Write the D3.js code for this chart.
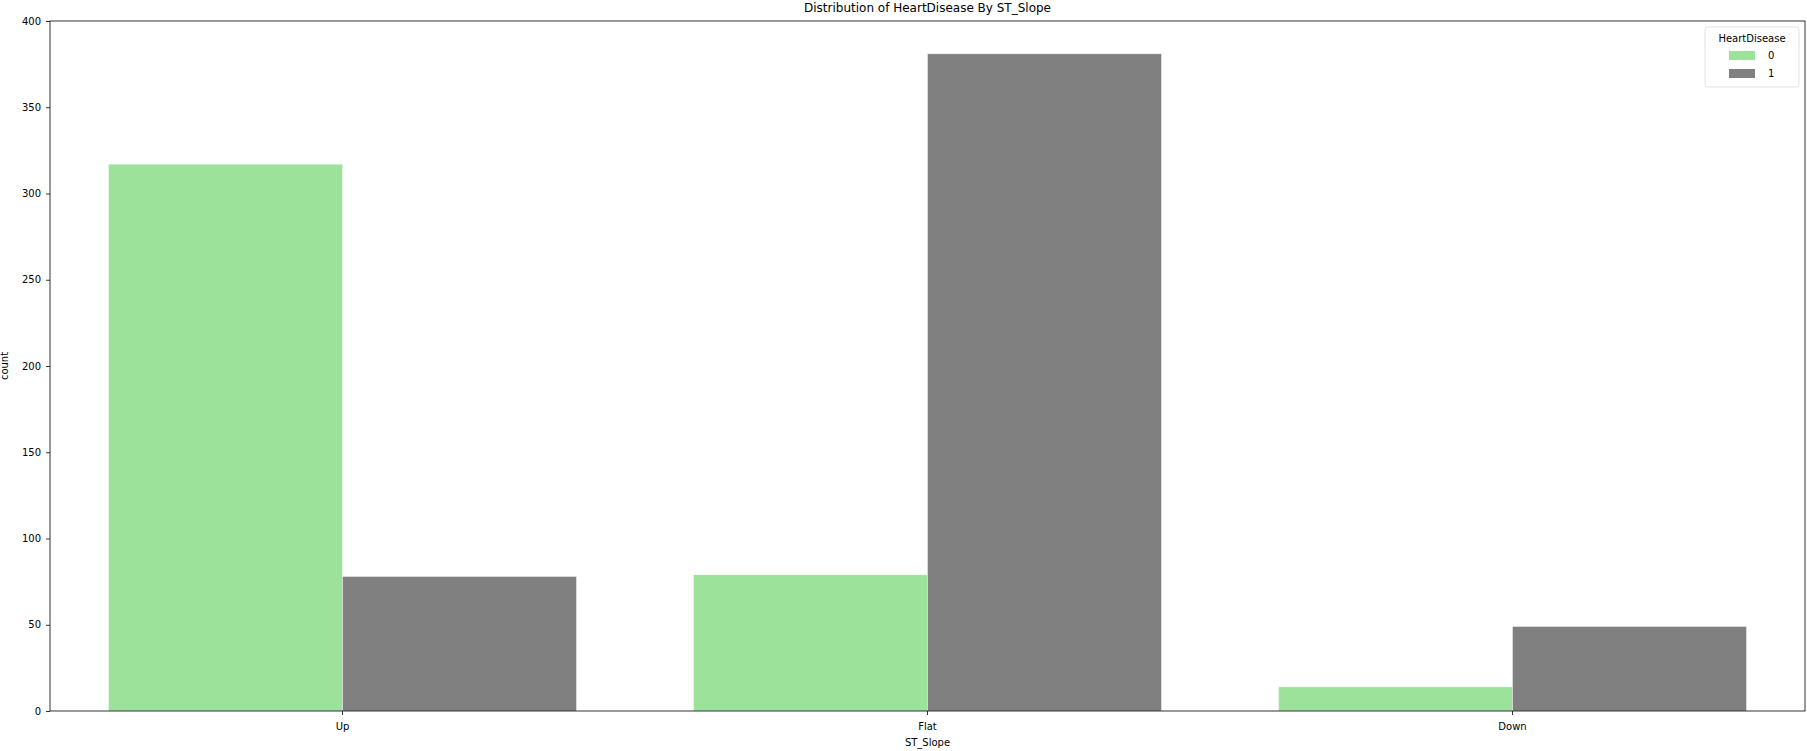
<!DOCTYPE html>
<html>
<head>
<meta charset="utf-8">
<script src="https://cdn.jsdelivr.net/npm/d3@7"></script>
<style>
  body { margin: 0; background: #fff; }
  text { font-family: "DejaVu Sans", sans-serif; fill: #000; }
</style>
</head>
<body>
<script>
var categories = ["Up", "Flat", "Down"];
var hues = ["0", "1"];
var counts0 = [317, 79, 14];
var counts1 = [78, 381, 49];
var yTicks = [0, 50, 100, 150, 200, 250, 300, 350, 400];
var colors = ["#9de29a", "#808080"];

var w = 1807, h = 751;
var margin = {top: 21, right: 2, bottom: 40, left: 50};
var width = w - margin.left - margin.right;
var height = h - margin.top - margin.bottom;

var rows = categories.map(function(c, i){
  return {cat: c, vals: [counts0[i], counts1[i]]};
});

var x = d3.scaleBand()
  .domain(categories)
  .range([0, width])
  .paddingInner(0.2)
  .paddingOuter(0.1);
var x1 = d3.scaleBand().domain(hues).range([0, x.bandwidth()]);
var y = d3.scaleLinear().domain([0, 400]).range([height, 0]);

var svg = d3.select('body').append('svg')
  .attr('width', w)
  .attr('height', h);

var chart = svg.append('g')
  .attr('transform', 'translate(' + margin.left + ',' + margin.top + ')');

// bars, one group per category
var groups = chart.selectAll('.grp')
  .data(rows)
  .enter().append('g')
  .attr('transform', function(d){ return 'translate(' + x(d.cat) + ',0)'; });

groups.selectAll('rect')
  .data(function(d){ return d.vals.map(function(v, j){ return {h: hues[j], v: v}; }); })
  .enter().append('rect')
  .attr('x', function(d){ return x1(d.h); })
  .attr('y', function(d){ return y(d.v); })
  .attr('width', x1.bandwidth())
  .attr('height', function(d){ return height - y(d.v); })
  .attr('fill', function(d, j){ return colors[j]; })
  .attr('stroke', '#fff')
  .attr('stroke-opacity', 0.5)
  .attr('stroke-width', 0.8);

// axes
var yAxis = chart.append('g')
  .call(d3.axisLeft(y).tickValues(yTicks).tickSize(4).tickPadding(5));
var xAxis = chart.append('g')
  .attr('transform', 'translate(0,' + height + ')')
  .call(d3.axisBottom(x).tickSize(4).tickPadding(8));
[yAxis, xAxis].forEach(function(a){
  a.select('.domain').remove();
  a.selectAll('text').style('font-size', '10px').style('font-family', '"DejaVu Sans", sans-serif');
  a.selectAll('line').attr('stroke', '#000').attr('stroke-width', 0.8);
});

// frame
chart.append('rect')
  .attr('width', width).attr('height', height)
  .attr('fill', 'none').attr('stroke', '#000').attr('stroke-width', 0.8);

// titles
svg.append('text')
  .attr('x', margin.left + width / 2).attr('y', 12)
  .attr('text-anchor', 'middle').style('font-size', '12px')
  .text('Distribution of HeartDisease By ST_Slope');
svg.append('text')
  .attr('x', margin.left + width / 2).attr('y', h - 5)
  .attr('text-anchor', 'middle').style('font-size', '10px')
  .text('ST_Slope');
svg.append('text')
  .attr('transform', 'translate(8,' + (margin.top + height / 2) + ') rotate(-90)')
  .attr('text-anchor', 'middle').style('font-size', '10px')
  .text('count');

// legend
var lg = svg.append('g').attr('transform', 'translate(1705,27)');
lg.append('rect')
  .attr('width', 94).attr('height', 60).attr('rx', 3)
  .attr('fill', '#fff').attr('fill-opacity', 0.8)
  .attr('stroke', '#d9d9d9').attr('stroke-width', 0.8);
lg.append('text')
  .attr('x', 47).attr('y', 15).attr('text-anchor', 'middle')
  .style('font-size', '10px').text('HeartDisease');
hues.forEach(function(k, i){
  lg.append('rect')
    .attr('x', 24).attr('y', 24 + i * 18)
    .attr('width', 26).attr('height', 9)
    .attr('fill', colors[i]);
  lg.append('text')
    .attr('x', 63).attr('y', 32 + i * 18)
    .style('font-size', '10px').text(k);
});
</script>
</body>
</html>
